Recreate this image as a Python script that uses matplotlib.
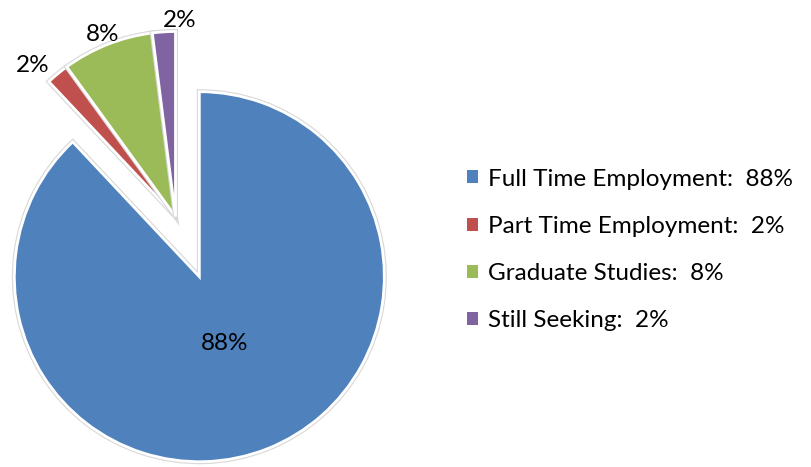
#!/usr/bin/env python3
"""Post-graduation outcomes pie chart (exploded main slice)."""

import numpy as np
import matplotlib

matplotlib.use("Agg")
import matplotlib.pyplot as plt
import matplotlib.patheffects as pe
from matplotlib.patches import Patch

plt.rcParams["font.family"] = ["Lato", "DejaVu Sans"]

CATEGORIES = ["Full Time Employment", "Part Time Employment", "Graduate Studies", "Still Seeking"]
PERCENTS = [88, 2, 8, 2]
EXPLODE = [0.35, 0.0, 0.0, 0.0]
COLORS = ["#4F81BD", "#C0504D", "#9BBB59", "#8064A2"]

W, H = 811, 467
CX, CY, R = 175.5, 467 - 216.5, 185  # pie centre / radius in pixels

fig = plt.figure(figsize=(W / 100, H / 100), dpi=100)
ax = fig.add_axes([0, 0, 1, 1])

wedges, _ = ax.pie(
    PERCENTS,
    explode=EXPLODE,
    colors=COLORS,
    startangle=90,
    counterclock=False,
    radius=1.0,
    wedgeprops=dict(edgecolor="white", linewidth=2.0),
    frame=True,
)
for w in wedges:
    w.set_path_effects([pe.Stroke(linewidth=3.6, foreground="#d8d8d8"), pe.Normal()])

ax.set_xlim(-CX / R, (W - CX) / R)
ax.set_ylim(-CY / R, (H - CY) / R)
ax.set_aspect("auto")
ax.axis("off")

for w, pct in zip(wedges, PERCENTS):
    ang = np.deg2rad((w.theta1 + w.theta2) / 2)
    cx, cy = w.center
    dx, dy = np.cos(ang), np.sin(ang)
    if pct > 50:
        dist, ha = 0.375, "center"
    else:
        # outside labels: anchor side depends on where the slice points
        dist = 1.07
        ha = "right" if dx < -0.5 else ("left" if dx > -0.2 else "center")
    ax.text(cx + dist * dx, cy + dist * dy, f"{pct}%",
            ha=ha, va="center_baseline", fontsize=17.5, color="black")

labels = [f"{c}:  {p}%" for c, p in zip(CATEGORIES, PERCENTS)]
handles = [Patch(facecolor=c, edgecolor="none") for c in COLORS]
fig.legend(
    handles,
    labels,
    loc="center left",
    bbox_to_anchor=(467 / W, 1 - 250 / H),
    frameon=False,
    fontsize=17.5,
    handlelength=0.45,
    handleheight=0.45,
    handletextpad=0.4,
    labelspacing=1.08,
    borderpad=0,
    borderaxespad=0,
)

fig.savefig("out.png", dpi=100)
